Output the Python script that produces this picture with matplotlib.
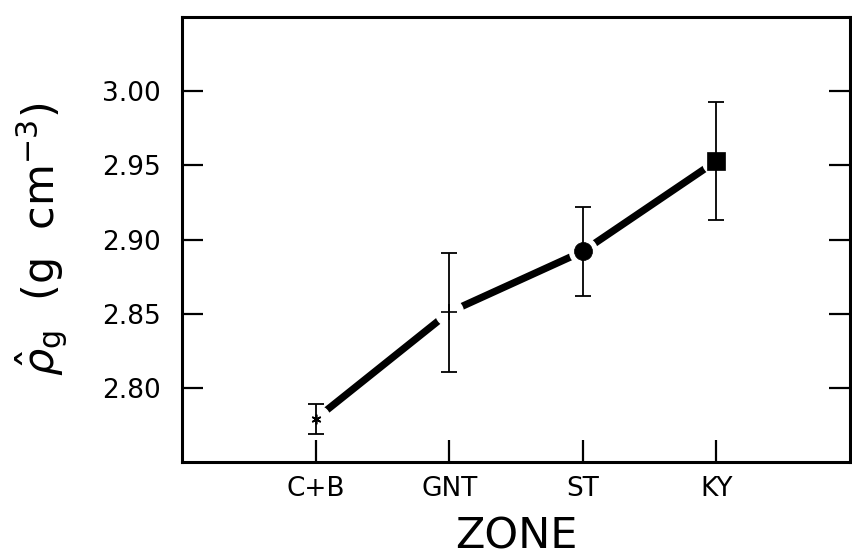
"""Grain density by zone: mean with error bars, joined by a thick line."""

import matplotlib

matplotlib.use("Agg")
import matplotlib.pyplot as plt

zones = ["C+B", "GNT", "ST", "KY"]
density = [2.779, 2.851, 2.892, 2.953]
density_err = [0.010, 0.040, 0.030, 0.040]
y_ticks = [2.80, 2.85, 2.90, 2.95, 3.00]

markers = [(6, 2, 0), "+", "o", "s"]
marker_sizes = [7, 11, 13, 13]

fig = plt.figure(figsize=(8.52, 5.58), dpi=100)
ax = fig.add_axes([0.2136, 0.172, 0.7841, 0.7975])

x = list(range(1, len(zones) + 1))

# thick connecting line, broken around each symbol
ax.plot(x, density, color="black", linewidth=5.2, solid_capstyle="butt", zorder=2)
ax.plot(x, density, linestyle="none", marker="o", markersize=20,
        markerfacecolor="white", markeredgecolor="white", zorder=3)

for xi, yi, ei, m, ms in zip(x, density, density_err, markers, marker_sizes):
    ax.errorbar(xi, yi, yerr=ei, fmt="none", ecolor="black", elinewidth=1.3,
                capsize=5.5, capthick=1.3, zorder=4)
    ax.plot(xi, yi, linestyle="none", marker=m, markersize=ms, color="black",
            markeredgewidth=1.2 if m in ("+", (6, 2, 0)) else 0.5, zorder=5)

ax.set_xlim(0, 5)
ax.set_ylim(2.75, 3.05)
ax.set_xticks(x)
ax.set_xticklabels(zones)
ax.set_yticks(y_ticks)
ax.set_yticklabels([f"{t:.2f}" for t in y_ticks])

ax.tick_params(axis="y", direction="in", length=15, width=1.6, left=True,
               right=True, labelsize=19, pad=15)
ax.tick_params(axis="x", direction="in", length=16, width=1.6, bottom=True,
               top=False, labelsize=19, pad=10)
for spine in ax.spines.values():
    spine.set_linewidth(2.2)

ax.set_xlabel("ZONE", fontsize=31, labelpad=10)
ax.set_ylabel(r"$\hat{\rho}_{\rm g}$  (g  cm$^{-3}$)", fontsize=31, labelpad=24)

fig.savefig("out.png", dpi=100)
